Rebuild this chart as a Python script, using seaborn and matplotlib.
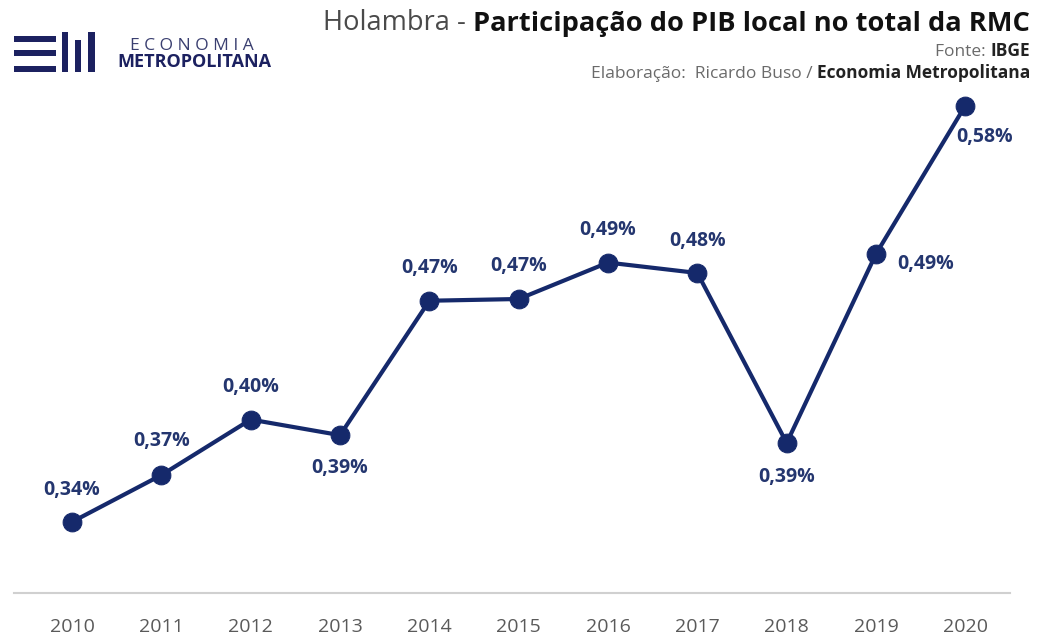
#!/usr/bin/env python3

import pandas as pd
import seaborn as sns
import matplotlib.pyplot as plt
from matplotlib.patches import Rectangle

sns.set_theme(style="white")
plt.rcParams['font.family'] = ['Open Sans', 'DejaVu Sans']

# dados (participação % do PIB local no total da RMC)
years = ["2010", "2011", "2012", "2013", "2014", "2015",
         "2016", "2017", "2018", "2019", "2020"]
share = [0.340, 0.367, 0.399, 0.390, 0.4675, 0.4685,
         0.4895, 0.4835, 0.3855, 0.4945, 0.580]
labels = ["0,34%", "0,37%", "0,40%", "0,39%", "0,47%", "0,47%",
          "0,49%", "0,48%", "0,39%", "0,49%", "0,58%"]
# deslocamento dos rótulos (pixels)
offsets = [(0, 32), (0, 34), (0, 33), (0, -33), (0, 33), (0, 33),
           (0, 33), (0, 32), (0, -34), (50, -10), (19, -31)]

df = pd.DataFrame({"year": years, "share": share})

navy = "#15296b"
lab_col = "#24366f"
W, H = 1044, 636

fig = plt.figure(figsize=(W / 100, H / 100), dpi=100)
ax = fig.add_axes([14 / W, 1 - 593 / H, (1010 - 14) / W, (593 - 90) / H])

sns.lineplot(data=df, x="year", y="share", ax=ax, color=navy,
             linewidth=3, marker="o", markersize=13.5,
             markeredgecolor=navy, markerfacecolor=navy, sort=False)

for i, (v, t, off) in enumerate(zip(share, labels, offsets)):
    ax.annotate(t, xy=(i, v), xytext=off, textcoords="offset pixels",
                ha="center", va="center", fontsize=14,
                fontweight="bold", color=lab_col)

ax.set_xlim(-0.65, 10.5)
ax.set_ylim(0.299, 0.589)
ax.set_yticks([])
ax.set_xlabel("")
ax.set_ylabel("")
for s in ["top", "right", "left"]:
    ax.spines[s].set_visible(False)
ax.spines["bottom"].set_color("#d0d0d0")
ax.spines["bottom"].set_linewidth(1.5)
ax.tick_params(axis="x", length=0, pad=18, labelsize=14, colors="#5a5a5a")

# título e fontes (parte em negrito alinhada à direita)
t1 = fig.text(1030 / W, 1 - 37 / H, "Participação do PIB local no total da RMC",
              ha="right", va="bottom", fontsize=19.6, fontweight="bold",
              color="#111111")
ax.annotate("Holambra - ", xy=(0, 0), xycoords=t1, ha="right", va="bottom",
            fontsize=19.6, color="#4a4a4a")

t2 = fig.text(1030 / W, 1 - 60 / H, "IBGE", ha="right", va="bottom",
              fontsize=12.5, fontweight="bold", color="#222222")
ax.annotate("Fonte: ", xy=(0, 0), xycoords=t2, ha="right", va="bottom",
            fontsize=12.5, color="#6a6a6a")

t3 = fig.text(1030 / W, 1 - 82 / H, "Economia Metropolitana", ha="right",
              va="bottom", fontsize=12.5, fontweight="bold", color="#222222")
ax.annotate("Elaboração:  Ricardo Buso / ", xy=(0, 0), xycoords=t3,
            ha="right", va="bottom", fontsize=12.5, color="#6a6a6a")

# logotipo
logo = "#1c2160"
def rect(x0, y0, x1, y1, c=logo):
    fig.add_artist(Rectangle((x0 / W, 1 - y1 / H), (x1 - x0) / W, (y1 - y0) / H,
                             transform=fig.transFigure, color=c, lw=0))

rect(14, 36, 56, 42)
rect(14, 50, 56, 56)
rect(14, 66, 56, 72)
rect(62, 32, 68, 72)
rect(75, 40, 81, 72)
rect(88, 32, 95, 72)
fig.text(130 / W, 1 - 46 / H, "E C O N O M I A", ha="left", va="center",
         fontsize=12.5, color="#3a3f70")
fig.text(117 / W, 1 - 62 / H, "METROPOLITANA", ha="left", va="center",
         fontsize=13, fontweight="bold", color=logo)

fig.savefig("out.png", dpi=100)
